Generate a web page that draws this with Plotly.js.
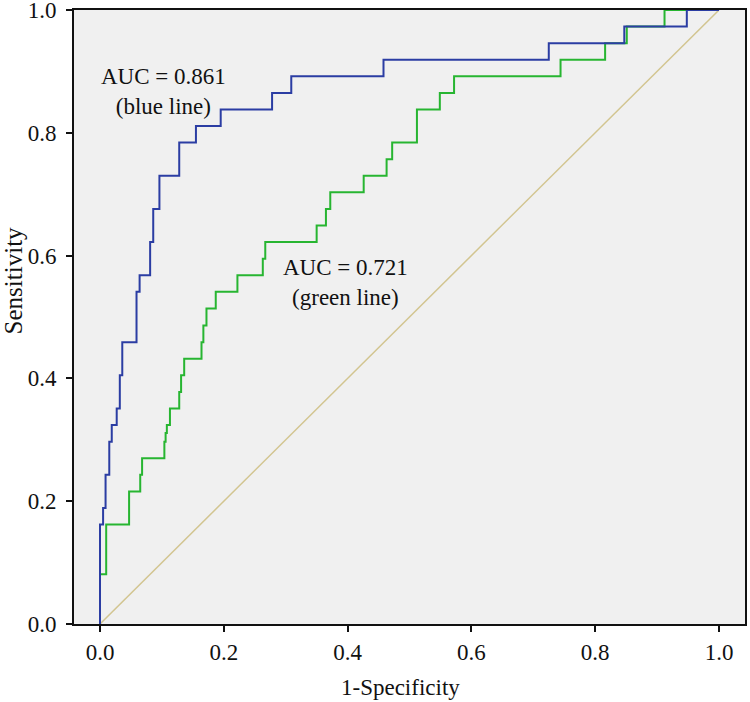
<!DOCTYPE html>
<html>
<head>
<meta charset="utf-8">
<script src="https://cdn.plot.ly/plotly-3.0.1.min.js"></script>
<style>html,body{margin:0;padding:0;background:#fff;}#chart{width:750px;height:702px;}</style>
</head>
<body>
<div id="chart"></div>
<script>
// ROC points (1-Specificity, Sensitivity), step curves
var blueFPR = [0, 0, 0.005, 0.009, 0.015, 0.019, 0.027, 0.032, 0.036, 0.059, 0.064, 0.081, 0.086, 0.096, 0.128, 0.155, 0.195, 0.278, 0.309, 0.458, 0.725, 0.847, 0.948, 1.0];
var blueTPR = [0, 0.162, 0.189, 0.243, 0.297, 0.324, 0.351, 0.405, 0.459, 0.541, 0.568, 0.622, 0.676, 0.730, 0.784, 0.811, 0.838, 0.865, 0.892, 0.919, 0.946, 0.973, 1.0, 1.0];

var greenFPR = [0, 0, 0.010, 0.047, 0.065, 0.068, 0.104, 0.106, 0.108, 0.113, 0.128, 0.131, 0.136, 0.164, 0.167, 0.172, 0.187, 0.222, 0.263, 0.267, 0.350, 0.365, 0.372, 0.426, 0.463, 0.472, 0.512, 0.549, 0.572, 0.744, 0.816, 0.851, 0.912, 1.0];
var greenTPR = [0, 0.081, 0.162, 0.216, 0.243, 0.270, 0.297, 0.311, 0.324, 0.351, 0.378, 0.405, 0.432, 0.459, 0.486, 0.514, 0.541, 0.568, 0.595, 0.622, 0.649, 0.676, 0.703, 0.730, 0.757, 0.784, 0.838, 0.865, 0.892, 0.919, 0.946, 0.973, 1.0, 1.0];

var refX = [0, 1];
var refY = [0, 1];

var tickVals = [0, 0.2, 0.4, 0.6, 0.8, 1.0];
var tickText = ["0.0", "0.2", "0.4", "0.6", "0.8", "1.0"];

var labelBlue = "AUC = 0.861<br>(blue line)";
var labelGreen = "AUC = 0.721<br>(green line)";
var xTitle = "1-Specificity";
var yTitle = "Sensitivity";

var serif = "Liberation Serif, Times New Roman, serif";

var traces = [
  {x: refX, y: refY, mode: 'lines', line: {color: '#d2c590', width: 1.5}, hoverinfo: 'skip'},
  {x: greenFPR, y: greenTPR, mode: 'lines', line: {color: '#27b531', width: 2, shape: 'hv'}},
  {x: blueFPR, y: blueTPR, mode: 'lines', line: {color: '#2b3da3', width: 2, shape: 'hv'}}
];

var axisCommon = {
  showgrid: false, zeroline: false,
  showline: true, mirror: true, linecolor: '#111', linewidth: 2,
  ticks: 'outside', ticklen: 6, tickwidth: 2, tickcolor: '#111',
  tickvals: tickVals, ticktext: tickText,
  ticklabeloverflow: 'allow',
  tickfont: {family: serif, size: 23, color: '#111'}
};

var layout = {
  width: 750, height: 702,
  margin: {l: 74, r: 5, t: 10, b: 78},
  paper_bgcolor: '#ffffff',
  plot_bgcolor: '#f0f0f0',
  showlegend: false,
  xaxis: Object.assign({}, axisCommon, {range: [-0.042, 1.042], ticklabelstandoff: 0}),
  yaxis: Object.assign({}, axisCommon, {range: [0, 1], ticklabelstandoff: 5}),
  annotations: [
    {x: 0.103, y: 0.868, xref: 'x', yref: 'y', text: labelBlue, showarrow: false,
     xanchor: 'center', yanchor: 'middle',
     font: {family: serif, size: 23, color: '#111'}, align: 'center'},
    {x: 0.396, y: 0.557, xref: 'x', yref: 'y', text: labelGreen, showarrow: false,
     xanchor: 'center', yanchor: 'middle',
     font: {family: serif, size: 23, color: '#111'}, align: 'center'},
    {x: 0.487, y: -0.104, xref: 'paper', yref: 'paper', text: xTitle, showarrow: false,
     xanchor: 'center', yanchor: 'middle',
     font: {family: serif, size: 23, color: '#111'}},
    {x: -0.09, y: 0.559, xref: 'paper', yref: 'paper', text: yTitle, showarrow: false, textangle: -90,
     xanchor: 'center', yanchor: 'middle',
     font: {family: serif, size: 25, color: '#111'}}
  ]
};

Plotly.newPlot('chart', traces, layout, {displayModeBar: false, staticPlot: true});
</script>
</body>
</html>
